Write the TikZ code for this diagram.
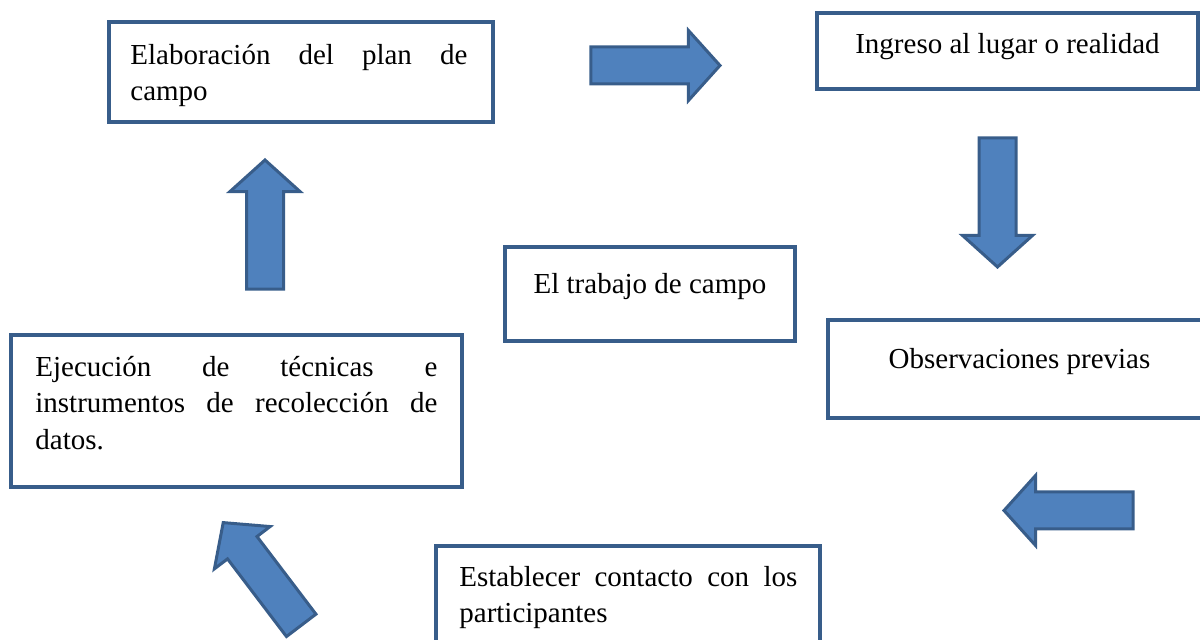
\documentclass[tikz,border=0pt]{standalone}
\usepackage{fontspec}
\setmainfont{Liberation Serif}
\usetikzlibrary{shapes.arrows}
\definecolor{borde}{RGB}{56,93,138}
\definecolor{relleno}{RGB}{79,129,189}
\tikzset{
  caja/.style={draw=borde, line width=2pt, fill=white, rectangle, inner sep=0pt},
  texto/.style={inner sep=0pt, font=\fontsize{14.5pt}{18.2pt}\selectfont},
  flecha/.style={single arrow, draw=borde, fill=relleno, line width=1.5pt,
    inner sep=0pt, inner ysep=8.5pt, single arrow head extend=8.25pt,
    single arrow tip angle=96, minimum height=64.5pt, anchor=tip}
}
\begin{document}
\begin{tikzpicture}[x=0.5pt,y=-0.5pt]
  \useasboundingbox (0,0) rectangle (1200,640);
  % cajas
  \node[caja, minimum width=192pt, minimum height=50pt] (plan) at (300.5,72) {};
  \node[caja, minimum width=190.5pt, minimum height=38pt] (ingreso) at (1007.5,51) {};
  \node[caja, minimum width=145pt, minimum height=47pt] (trabajo) at (650,294) {};
  \node[caja, minimum width=188.5pt, minimum height=49pt] (observ) at (1016.5,369) {};
  \node[caja, minimum width=225.5pt, minimum height=76pt] (ejec) at (236.5,411) {};
  \node[caja, minimum width=192pt, minimum height=67pt] (contacto) at (628,613) {};
  % textos
  \node[texto, anchor=base west, text width=168.5pt, align=justify] (tplan) at (130,64.5)
    {Elaboración del plan de\linebreak campo};
  \node[texto, anchor=base] (tingreso) at (1007.5,54) {Ingreso al lugar o realidad};
  \node[texto, anchor=base] (ttrabajo) at (650,294) {El trabajo de campo};
  \node[texto, anchor=base] (tobserv) at (1019.5,369) {Observaciones previas};
  \node[texto, anchor=base west, text width=201pt, align=justify] (tejec) at (35,376.5)
    {Ejecución de técnicas e\linebreak instrumentos de recolección de\linebreak datos.};
  \node[texto, anchor=base west, text width=169pt, align=justify] (tcontacto) at (459,586.5)
    {Establecer contacto con los\linebreak participantes};
  % flechas
  \node[flecha] (f1) at (722,65.5) {};
  \node[flecha, rotate=-90] (f2) at (997.5,269) {};
  \node[flecha, rotate=180] (f3) at (1002,510.5) {};
  \node[flecha, rotate=127.2] (f4) at (222,521) {};
  \node[flecha, rotate=90] (f5) at (265,158) {};
\end{tikzpicture}
\end{document}
